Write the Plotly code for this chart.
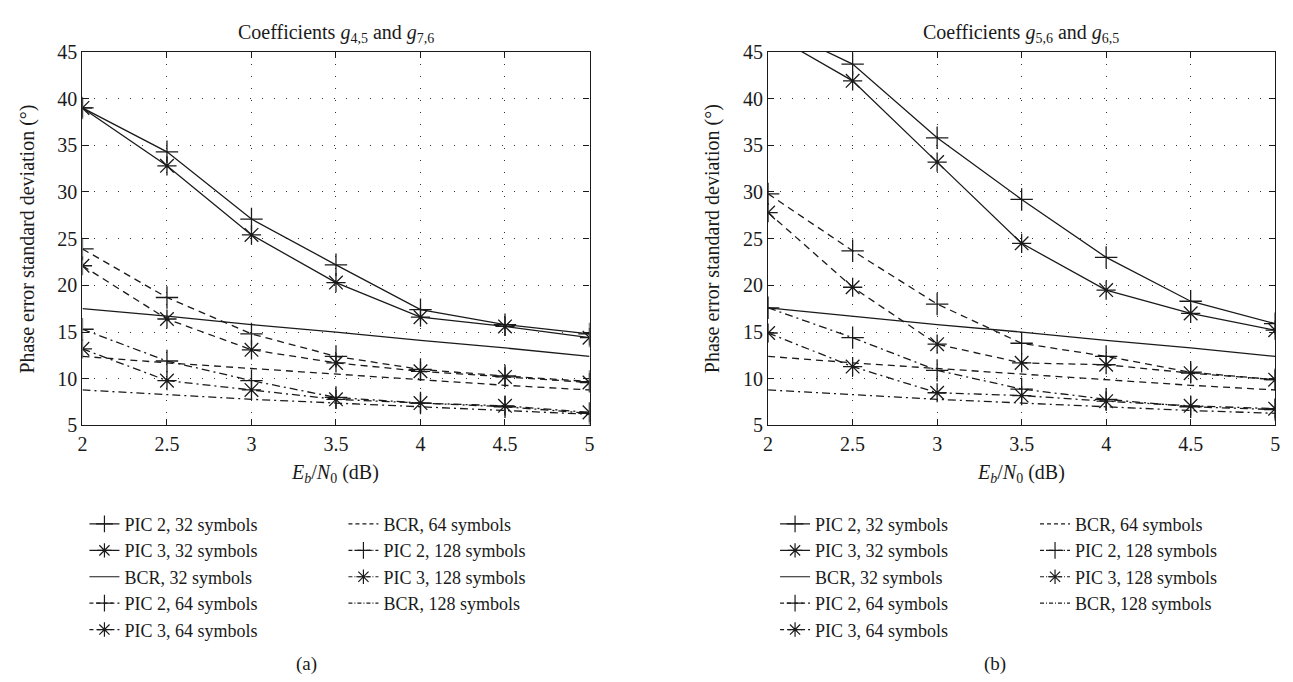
import plotly.graph_objects as go

x = [2, 2.5, 3, 3.5, 4, 4.5, 5]

names = ["PIC 2, 32 symbols", "PIC 3, 32 symbols", "BCR, 32 symbols",
         "PIC 2, 64 symbols", "PIC 3, 64 symbols", "BCR, 64 symbols",
         "PIC 2, 128 symbols", "PIC 3, 128 symbols", "BCR, 128 symbols"]

# Panel (a): coefficients g4,5 and g7,6
a_pic2_32 = [39.0, 34.3, 27.1, 22.2, 17.4, 15.8, 14.8]
a_pic3_32 = [39.0, 32.8, 25.4, 20.3, 16.6, 15.6, 14.4]
a_bcr_32 = [17.5, 16.7, 15.8, 15.0, 14.1, 13.3, 12.4]
a_pic2_64 = [23.9, 18.7, 14.8, 12.4, 11.0, 10.3, 9.7]
a_pic3_64 = [22.1, 16.4, 13.1, 11.7, 10.8, 10.2, 9.6]
a_bcr_64 = [12.4, 11.7, 11.1, 10.5, 9.9, 9.3, 8.8]
a_pic2_128 = [15.3, 11.9, 9.8, 8.0, 7.4, 7.0, 6.3]
a_pic3_128 = [13.2, 9.8, 8.8, 7.8, 7.4, 7.1, 6.4]
a_bcr_128 = [8.8, 8.3, 7.8, 7.4, 7.0, 6.6, 6.2]

# Panel (b): coefficients g5,6 and g6,5
b_pic2_32 = [48.0, 43.7, 35.8, 29.2, 23.0, 18.3, 15.9]
b_pic3_32 = [47.1, 41.9, 33.2, 24.5, 19.5, 17.0, 15.2]
b_bcr_32 = [17.6, 16.7, 15.8, 15.0, 14.1, 13.3, 12.4]
b_pic2_64 = [29.8, 23.7, 18.0, 13.8, 12.4, 10.7, 9.9]
b_pic3_64 = [27.8, 19.8, 13.7, 11.7, 11.5, 10.6, 9.9]
b_bcr_64 = [12.4, 11.7, 11.1, 10.5, 9.9, 9.3, 8.8]
b_pic2_128 = [17.6, 14.4, 10.9, 8.9, 7.8, 7.0, 6.7]
b_pic3_128 = [14.9, 11.3, 8.5, 8.2, 7.6, 7.1, 6.8]
b_bcr_128 = [8.8, 8.3, 7.8, 7.4, 7.0, 6.6, 6.3]

x_ticks = [2, 2.5, 3, 3.5, 4, 4.5, 5]
y_ticks = [5, 10, 15, 20, 25, 30, 35, 40, 45]

panel_a = [a_pic2_32, a_pic3_32, a_bcr_32, a_pic2_64, a_pic3_64, a_bcr_64,
           a_pic2_128, a_pic3_128, a_bcr_128]
panel_b = [b_pic2_32, b_pic3_32, b_bcr_32, b_pic2_64, b_pic3_64, b_bcr_64,
           b_pic2_128, b_pic3_128, b_bcr_128]

DASH = "7px,5px"
DASHDOT = "8px,4px,2px,4px"
LEG_DASH = "4px,3px"
LEG_DASHDOT = "4px,2px,1px,2px"
styles = [
    ("solid", "solid", "cross-thin"), ("solid", "solid", "asterisk"),
    ("solid", "solid", None),
    (DASH, LEG_DASH, "cross-thin"), (DASH, LEG_DASH, "asterisk"),
    (DASH, LEG_DASH, None),
    (DASHDOT, LEG_DASHDOT, "cross-thin"), (DASHDOT, LEG_DASHDOT, "asterisk"),
    (DASHDOT, LEG_DASHDOT, None),
]

INK = "#1a1a1a"
FONT = "Liberation Serif, Times New Roman, serif"

fig = go.Figure()

def add_panel(data, xa, ya, leg1, leg2):
    for i, (vals, (dash, ldash, sym)) in enumerate(zip(data, styles)):
        mode = "lines+markers" if sym else "lines"
        marker = dict(symbol=sym, size=16, color=INK,
                      line=dict(color=INK, width=1.3)) if sym else None
        fig.add_trace(go.Scatter(
            x=x, y=vals, mode=mode, name=names[i], showlegend=False,
            line=dict(color=INK, width=1.3, dash=dash),
            marker=marker, xaxis=xa, yaxis=ya,
        ))
    # legend-only entries with smaller symbols, like the printed key
    for i, (dash, ldash, sym) in enumerate(styles):
        mode = "lines+markers" if sym else "lines"
        marker = dict(symbol=sym, size=12, color=INK,
                      line=dict(color=INK, width=1.2)) if sym else None
        fig.add_trace(go.Scatter(
            x=[None], y=[None], mode=mode, name=names[i],
            line=dict(color=INK, width=1.2, dash=ldash),
            marker=marker, xaxis=xa, yaxis=ya,
            legend=leg1 if i < 5 else leg2,
        ))

add_panel(panel_a, "x", "y", "legend", "legend2")
add_panel(panel_b, "x2", "y2", "legend3", "legend4")

W, H = 1293, 682
def px(v):
    return v / W
def py(v):
    return 1 - v / H

ax_common = dict(
    showline=True, linecolor=INK, linewidth=1.2, mirror="allticks",
    ticks="inside", ticklen=6, tickcolor=INK, tickwidth=1,
    showgrid=True, gridcolor="#333", gridwidth=1, griddash="1px,11px",
    zeroline=False, tickfont=dict(family=FONT, size=20, color=INK),
)

top, bottom = 34, 420
fig.update_layout(
    width=W, height=H, margin=dict(l=0, r=0, t=0, b=0),
    paper_bgcolor="white", plot_bgcolor="white",
    font=dict(family=FONT, color=INK),
    xaxis=dict(domain=[px(70), px(581)], range=[2, 5], tickvals=x_ticks,
               anchor="y", **ax_common),
    yaxis=dict(domain=[py(bottom), py(top)], range=[5, 45], tickvals=y_ticks,
               anchor="x", **ax_common),
    xaxis2=dict(domain=[px(761), px(1272)], range=[2, 5], tickvals=x_ticks,
                anchor="y2", **ax_common),
    yaxis2=dict(domain=[py(bottom), py(top)], range=[5, 45], tickvals=y_ticks,
                anchor="x2", **ax_common),
)

leg_common = dict(xanchor="left", yanchor="top", bgcolor="rgba(0,0,0,0)",
                  font=dict(family=FONT, size=18, color=INK),
                  tracegroupgap=0, itemwidth=30, orientation="v")
leg_top = py(503)
fig.update_layout(
    legend=dict(x=px(72), y=leg_top, **leg_common),
    legend2=dict(x=px(333), y=leg_top, **leg_common),
    legend3=dict(x=px(768), y=leg_top, **leg_common),
    legend4=dict(x=px(1030), y=leg_top, **leg_common),
)

ann = []
def A(text, xp, yp, size=20, angle=0):
    ann.append(dict(text=text, x=px(xp), y=py(yp), xref="paper", yref="paper",
                    xanchor="center", yanchor="middle",
                    showarrow=False, textangle=angle,
                    font=dict(family=FONT, size=size, color=INK)))

A("Coefficients <i>g</i><sub>4,5</sub> and <i>g</i><sub>7,6</sub>", 326, 15)
A("Coefficients <i>g</i><sub>5,6</sub> and <i>g</i><sub>6,5</sub>", 1016, 15)
A("<i>E<sub>b</sub></i>/<i>N</i><sub>0</sub> (dB)", 325, 470)
A("<i>E<sub>b</sub></i>/<i>N</i><sub>0</sub> (dB)", 1016, 470)
A("Phase error standard deviation (°)", 15, 227, angle=-90)
A("Phase error standard deviation (°)", 705, 227, angle=-90)
A("(a)", 296, 667, size=19)
A("(b)", 990, 667, size=19)
fig.update_layout(annotations=ann)

fig.write_html("out.html")
